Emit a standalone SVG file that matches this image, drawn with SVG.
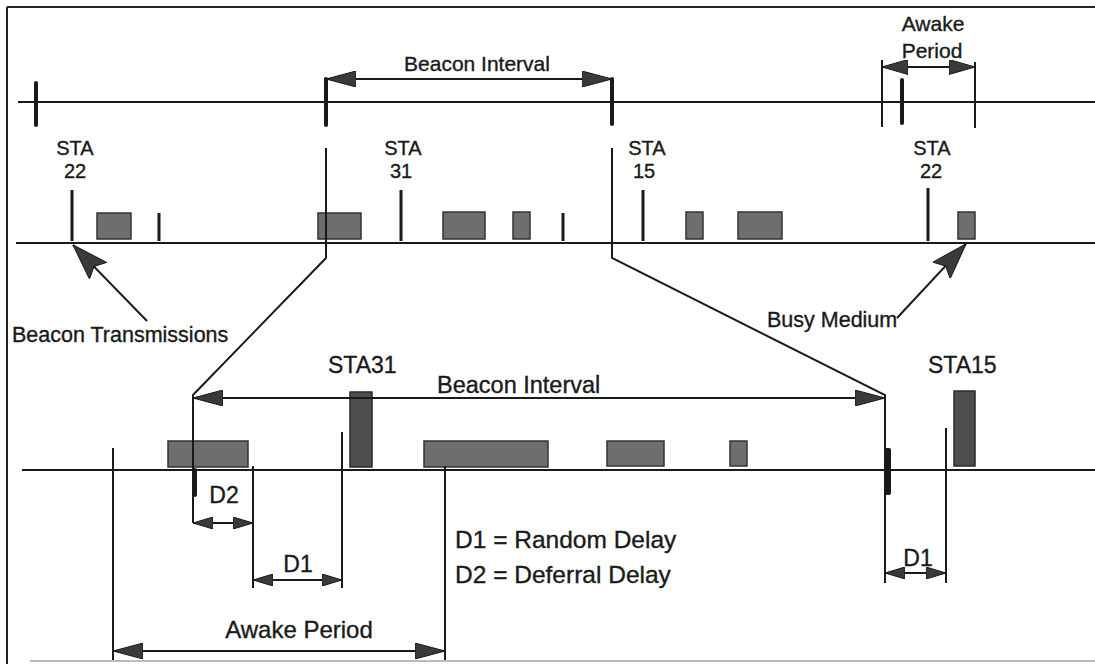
<svg xmlns="http://www.w3.org/2000/svg" width="1095" height="664" viewBox="0 0 1095 664">
<style>
.ln{stroke:#1a1a1a;stroke-width:2;fill:none}
.tk{stroke:#1a1a1a;stroke-width:4;stroke-linecap:round}
.st{stroke:#1a1a1a;stroke-width:3}
.blk{fill:#6e6e6e;stroke:#333;stroke-width:1.5}
.tall{fill:#4e4e4e;stroke:#2a2a2a;stroke-width:1.5}
.t{font-family:"Liberation Sans",Arial,sans-serif;fill:#1a1a1a;stroke:#1a1a1a;stroke-width:0.35}
.s20{font-size:20px}
.s21{font-size:21px}
.s23{font-size:23px}
</style>
<defs>
<marker id="big" viewBox="0 0 30 16" markerWidth="30" markerHeight="16" refX="30" refY="8" orient="auto-start-reverse" markerUnits="userSpaceOnUse">
<path d="M0,0 L30,8 L0,16 z" fill="#3a3a3a" stroke="#1a1a1a" stroke-width="1"/>
</marker>
<marker id="mid" viewBox="0 0 26 15" markerWidth="26" markerHeight="15" refX="26" refY="7.5" orient="auto-start-reverse" markerUnits="userSpaceOnUse">
<path d="M0,0 L26,7.5 L0,15 z" fill="#3a3a3a" stroke="#1a1a1a" stroke-width="1"/>
</marker>
<marker id="sm" viewBox="0 0 20 12" markerWidth="20" markerHeight="12" refX="20" refY="6" orient="auto-start-reverse" markerUnits="userSpaceOnUse">
<path d="M0,0 L20,6 L0,12 z" fill="#3a3a3a" stroke="#1a1a1a" stroke-width="1"/>
</marker>
<marker id="huge" viewBox="0 0 36 24" markerWidth="36" markerHeight="24" refX="36" refY="12" orient="auto" markerUnits="userSpaceOnUse">
<path d="M0,0 L36,12 L0,24 L6,12 z" fill="#3a3a3a" stroke="#1a1a1a" stroke-width="1"/>
</marker>
</defs>
<rect width="1095" height="664" fill="#fff"/>
<g id="frame">
<line x1="7" y1="7" x2="1095" y2="7" stroke="#222" stroke-width="2"/>
<line x1="7" y1="7" x2="7" y2="664" stroke="#222" stroke-width="2"/>
<line x1="30" y1="661" x2="1095" y2="661" stroke="#bbb" stroke-width="2"/>
</g>
<g id="timeline-top">
<line class="ln" x1="18" y1="102" x2="1095" y2="102"/>
<line class="tk" x1="36" y1="83" x2="36" y2="125"/>
<line class="tk" x1="326" y1="79" x2="326" y2="125"/>
<line class="tk" x1="612" y1="79" x2="612" y2="124"/>
<line class="tk" x1="902" y1="80" x2="902" y2="123"/>
<line class="ln" x1="882" y1="60" x2="882" y2="127"/>
<line class="ln" x1="975" y1="62" x2="975" y2="128"/>
</g>
<g id="timeline-mid">
<line class="ln" x1="16" y1="243" x2="1095" y2="243"/>
<line class="st" x1="72" y1="190" x2="72" y2="241"/>
<line class="st" x1="401" y1="190" x2="401" y2="241"/>
<line class="st" x1="643" y1="190" x2="643" y2="241"/>
<line class="st" x1="928" y1="188" x2="928" y2="241"/>
<line class="st" x1="159" y1="213" x2="159" y2="241"/>
<line class="st" x1="563" y1="213" x2="563" y2="241"/>
<rect class="blk" x="97" y="213" width="34" height="26"/>
<rect class="blk" x="318" y="213" width="43" height="26"/>
<rect class="blk" x="443" y="212" width="42" height="27"/>
<rect class="blk" x="513" y="212" width="17" height="27"/>
<rect class="blk" x="686" y="212" width="17" height="27"/>
<rect class="blk" x="738" y="212" width="44" height="27"/>
<rect class="blk" x="958" y="212" width="17" height="27"/>
</g>
<g id="timeline-low">
<line class="ln" x1="22" y1="470" x2="1095" y2="470"/>
<rect class="blk" x="168" y="441" width="80" height="26"/>
<rect class="tall" x="350" y="392" width="22" height="75"/>
<rect class="blk" x="424" y="441" width="124" height="26"/>
<rect class="blk" x="607" y="441" width="57" height="25"/>
<rect class="blk" x="730" y="441" width="17" height="25"/>
<rect class="tall" x="954" y="391" width="21" height="75"/>
<rect x="193" y="468" width="4" height="29" rx="2" fill="#1a1a1a"/>
<rect x="885" y="448" width="6" height="47" rx="2" fill="#1a1a1a"/>
<line class="ln" x1="113" y1="448" x2="113" y2="660"/>
<line class="ln" x1="253" y1="466" x2="253" y2="588"/>
<line class="ln" x1="342" y1="432" x2="342" y2="588"/>
<line class="ln" x1="445" y1="466" x2="445" y2="660"/>
<line class="ln" x1="946" y1="428" x2="946" y2="583"/>
</g>
<g id="connectors">
<polyline class="ln" points="326,148 326,258 193,395 193,523"/>
<polyline class="ln" points="612,148 612,258 885,395 885,583"/>
<line class="ln" x1="326" y1="79" x2="612" y2="79" marker-start="url(#big)" marker-end="url(#big)"/>
<line class="ln" x1="882" y1="67" x2="975" y2="67" marker-start="url(#mid)" marker-end="url(#mid)"/>
<line class="ln" x1="147" y1="321" x2="73" y2="245" stroke-width="3" marker-end="url(#huge)"/>
<line class="ln" x1="897" y1="318" x2="966" y2="244" stroke-width="3" marker-end="url(#huge)"/>
<line class="ln" x1="193" y1="398" x2="885" y2="398" marker-start="url(#big)" marker-end="url(#big)"/>
<line class="ln" x1="193" y1="523" x2="253" y2="523" marker-start="url(#sm)" marker-end="url(#sm)"/>
<line class="ln" x1="253" y1="580" x2="342" y2="580" marker-start="url(#sm)" marker-end="url(#sm)"/>
<line class="ln" x1="885" y1="573" x2="946" y2="573" marker-start="url(#sm)" marker-end="url(#sm)"/>
<line class="ln" x1="113" y1="651" x2="445" y2="651" marker-start="url(#big)" marker-end="url(#big)"/>
</g>
<g id="label-beacon-top" class="t s21" text-anchor="middle">
<text x="477" y="71">Beacon Interval</text>
</g>
<g id="label-awake-top" class="t s21" text-anchor="middle">
<text x="933" y="31">Awake</text>
<text x="932" y="58">Period</text>
</g>
<g id="label-sta22-left" class="t s20" text-anchor="middle">
<text x="75" y="155">STA</text>
<text x="75" y="178">22</text>
</g>
<g id="label-sta31-top" class="t s20" text-anchor="middle">
<text x="403" y="155">STA</text>
<text x="401" y="178">31</text>
</g>
<g id="label-sta15-top" class="t s20" text-anchor="middle">
<text x="647" y="155">STA</text>
<text x="644" y="178">15</text>
</g>
<g id="label-sta22-right" class="t s20" text-anchor="middle">
<text x="932" y="155">STA</text>
<text x="931" y="178">22</text>
</g>
<g id="labels-pointers" class="t" font-size="21.5">
<text x="12" y="342">Beacon Transmissions</text>
<text x="767" y="327">Busy Medium</text>
</g>
<g id="labels-low" class="t s23">
<text x="328" y="373">STA31</text>
<text x="928" y="373">STA15</text>
<text x="437" y="393" font-size="23.5">Beacon Interval</text>
<text x="224" y="503" text-anchor="middle">D2</text>
<text x="298" y="572" text-anchor="middle">D1</text>
<text x="918" y="566" text-anchor="middle">D1</text>
</g>
<g id="legend" class="t" font-size="24.5">
<text x="455" y="548">D1 = Random Delay</text>
<text x="455" y="583">D2 = Deferral Delay</text>
</g>
<g id="label-awake-low" class="t" font-size="24">
<text x="299" y="638" text-anchor="middle">Awake Period</text>
</g>
</svg>
